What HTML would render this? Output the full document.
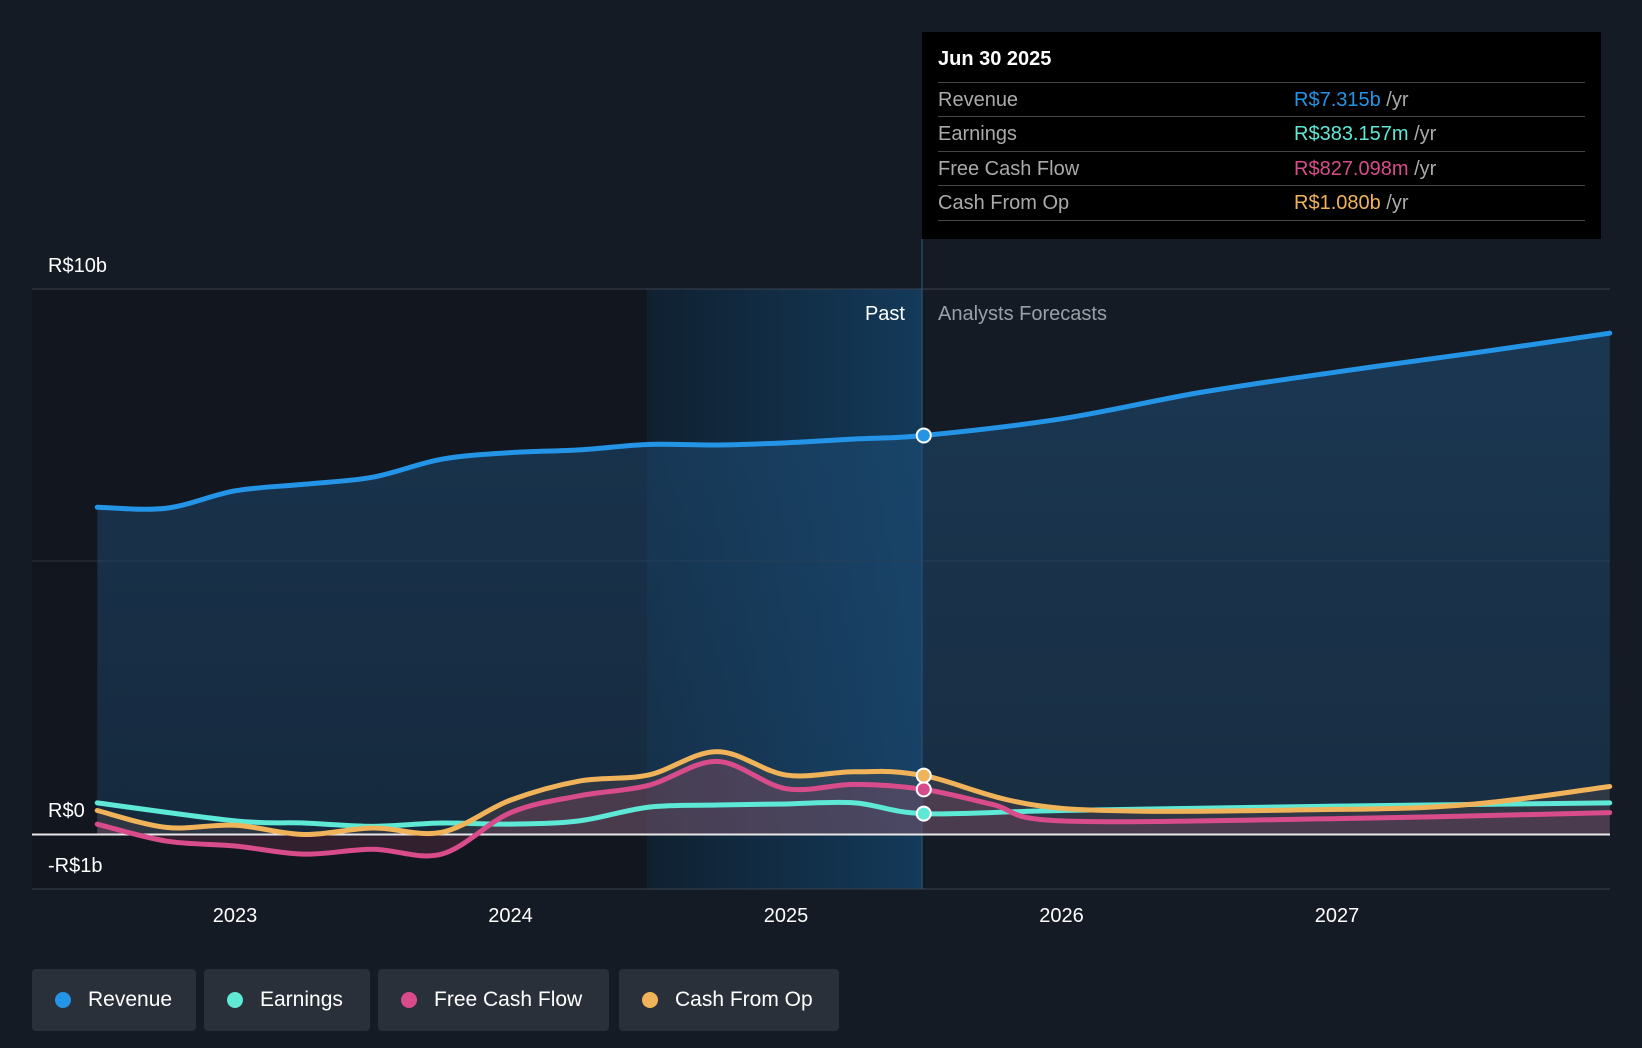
<!DOCTYPE html>
<html><head><meta charset="utf-8"><style>
body{margin:0;background:#151b24;font-family:"Liberation Sans",sans-serif;}
#wrap{position:relative;width:1642px;height:1048px;overflow:hidden;}
svg{position:absolute;left:0;top:0}
.leg{position:absolute;top:969px;height:62px;background:#2a303a;border-radius:4px;color:#fff;font-size:21px;line-height:62px;box-sizing:border-box;padding-left:56px}
.leg i{position:absolute;left:23px;top:23px;width:16px;height:16px;border-radius:50%}
#tip{position:absolute;left:922px;top:32px;width:679px;height:207px;background:#000;color:#fff;font-size:20px}
.row{position:absolute;left:16px;right:16px;height:34px;border-top:1px solid #444;line-height:34px;color:#aaa}
.row span{position:absolute;left:356px}
</style></head><body><div id="wrap">
<svg id="svg" width="1642" height="1048"></svg>
<div id="tip">
<div style="position:absolute;left:16px;top:16px;font-weight:bold">Jun 30 2025</div>
<div class="row" style="top:50px">Revenue<span><b style="color:#2394e6;font-weight:normal">R$7.315b</b> /yr</span></div>
<div class="row" style="top:84px">Earnings<span><b style="color:#5ee8d6;font-weight:normal">R$383.157m</b> /yr</span></div>
<div class="row" style="top:119px">Free Cash Flow<span><b style="color:#d94c8c;font-weight:normal">R$827.098m</b> /yr</span></div>
<div class="row" style="top:153px;border-bottom:1px solid #444">Cash From Op<span><b style="color:#f0b35a;font-weight:normal">R$1.080b</b> /yr</span></div>
</div>
<div class="leg" style="left:32px;width:164px"><i style="background:#2394e6"></i>Revenue</div>
<div class="leg" style="left:204px;width:166px"><i style="background:#5ee8d6"></i>Earnings</div>
<div class="leg" style="left:378px;width:231px"><i style="background:#d94c8c"></i>Free Cash Flow</div>
<div class="leg" style="left:619px;width:220px"><i style="background:#f0b35a"></i>Cash From Op</div>
</div>
<script>
const revT=[2022.5,2022.75,2023.0,2023.25,2023.5,2023.75,2024.0,2024.25,2024.5,2024.75,2025.0,2025.25,2025.5,2026.0,2026.5,2027.0,2027.5,2027.99];
const revV=[6.0,5.98,6.3,6.42,6.55,6.88,7.0,7.05,7.15,7.14,7.18,7.25,7.315,7.62,8.1,8.48,8.83,9.19];
const earnT=[2022.5,2023.0,2023.25,2023.5,2023.75,2024.0,2024.25,2024.5,2024.75,2025.0,2025.25,2025.5,2026.0,2027.0,2027.99];
const earnV=[0.58,0.25,0.21,0.15,0.21,0.19,0.25,0.5,0.54,0.56,0.58,0.383,0.44,0.52,0.58];
const fcfT=[2022.5,2022.75,2023.0,2023.25,2023.5,2023.75,2024.0,2024.25,2024.5,2024.75,2025.0,2025.25,2025.5,2025.75,2026.0,2027.0,2027.99];
const fcfV=[0.19,-0.12,-0.21,-0.36,-0.27,-0.36,0.4,0.71,0.9,1.34,0.84,0.92,0.827,0.55,0.25,0.29,0.4];
const cfoT=[2022.5,2022.75,2023.0,2023.25,2023.5,2023.75,2024.0,2024.25,2024.5,2024.75,2025.0,2025.25,2025.5,2026.0,2027.0,2027.5,2027.99];
const cfoV=[0.44,0.13,0.17,0.0,0.12,0.04,0.63,0.98,1.09,1.52,1.09,1.15,1.08,0.48,0.46,0.56,0.88];
const yearTicks=[2023,2024,2025,2026,2027];
const X=t=>235+(t-2023)*275.5, Y=v=>834.5-v*54.55;
const NS='http://www.w3.org/2000/svg', svg=document.getElementById('svg');
function el(tag,a,txt){const e=document.createElementNS(NS,tag);for(const k in a)e.setAttribute(k,a[k]);if(txt!=null)e.textContent=txt;svg.appendChild(e);return e;}
function path(T,V){const p=T.map((t,i)=>[X(t),Y(V[i])]);let d=`M${p[0][0]},${p[0][1]}`;
for(let i=0;i<p.length-1;i++){const p0=p[i-1]||p[i],p1=p[i],p2=p[i+1],p3=p[i+2]||p2;
d+=` C${p1[0]+(p2[0]-p0[0])/6},${p1[1]+(p2[1]-p0[1])/6} ${p2[0]-(p3[0]-p1[0])/6},${p2[1]-(p3[1]-p1[1])/6} ${p2[0]},${p2[1]}`;}return d;}
const defs=el('defs',{});
defs.innerHTML='<linearGradient id="pg" x1="0" x2="1"><stop offset="0" stop-color="#102030"/><stop offset="1" stop-color="#133a5a"/></linearGradient><linearGradient id="rg" x1="0" y1="0" x2="0" y2="1"><stop offset="0" stop-color="#1e4e78" stop-opacity="0.55"/><stop offset="1" stop-color="#1e4e78" stop-opacity="0.35"/></linearGradient>';
let r=el('rect',{x:32,y:289,width:615,height:600,fill:'#12161e'});
r=el('rect',{x:647,y:289,width:275,height:600,fill:'url(#pg)'});
el('line',{x1:32,x2:1610,y1:289,y2:289,stroke:'#3a424e'});
el('line',{x1:32,x2:1610,y1:561,y2:561,stroke:'#2c3440'});
el('line',{x1:32,x2:1610,y1:889,y2:889,stroke:'#3a424e'});
el('line',{x1:922,x2:922,y1:239,y2:889,stroke:'#2a5a80'});
const x0=X(revT[0]),x1=X(revT[revT.length-1]);
let a=el('path',{d:path(revT,revV)+` L${x1},${Y(0)} L${x0},${Y(0)} Z`,fill:'url(#rg)'});
a=el('path',{d:path(cfoT,cfoV)+` L${X(cfoT[cfoT.length-1])},${Y(0)} L${x0},${Y(0)} Z`,fill:'rgba(120,90,80,0.25)'});
a=el('path',{d:path(fcfT,fcfV)+` L${X(fcfT[fcfT.length-1])},${Y(0)} L${x0},${Y(0)} Z`,fill:'rgba(200,80,120,0.18)'});
el('line',{x1:32,x2:1610,y1:834.5,y2:834.5,stroke:'#e8e8e8','stroke-width':2});
const series=[[earnT,earnV,'#5ee8d6','earnings-line'],[fcfT,fcfV,'#d94c8c','fcf-line'],[cfoT,cfoV,'#f0b35a','cfo-line'],[revT,revV,'#2394e6','revenue-line']];
series.forEach(([T,V,c,n])=>{const l=el('path',{d:path(T,V),fill:'none',stroke:c,'stroke-width':5,'stroke-linecap':'round'});});
series.forEach(([T,V,c,n])=>{const i=T.indexOf(2025.5);const d=el('circle',{cx:X(T[i]),cy:Y(V[i]),r:7,fill:c,stroke:'#fff','stroke-width':2});});
yearTicks.forEach(y=>{const t=el('text',{x:X(y),y:922,fill:'#fff','font-size':20,'text-anchor':'middle'},String(y));});
[['R$10b',272],['R$0',817],['-R$1b',872]].forEach(([s,y])=>{const t=el('text',{x:48,y:y,fill:'#fff','font-size':20},s);});
let t=el('text',{x:905,y:320,fill:'#fff','font-size':20,'text-anchor':'end'},'Past');
t=el('text',{x:938,y:320,fill:'#9aa0a8','font-size':20},'Analysts Forecasts');
</script></body></html>
